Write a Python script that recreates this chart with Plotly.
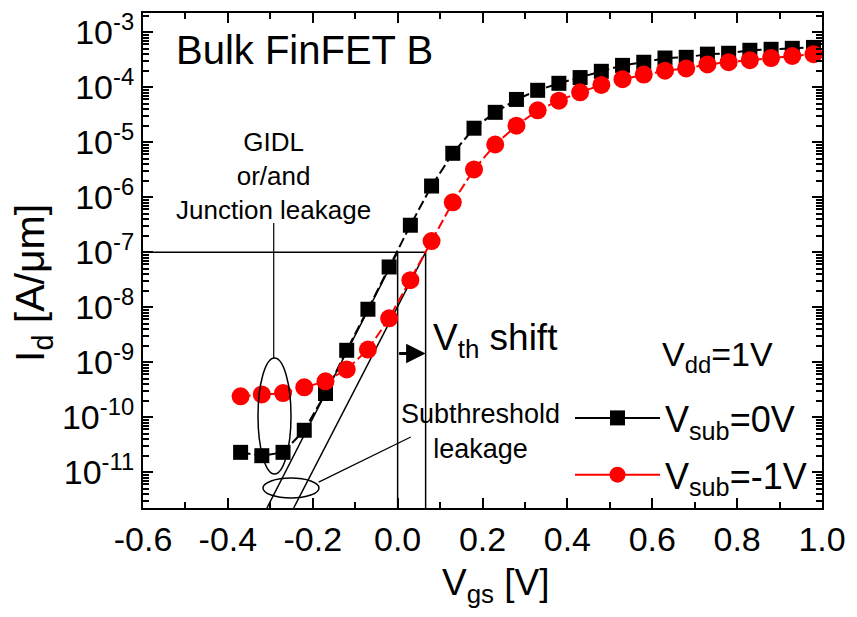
import plotly.graph_objects as go

# ---------------- data ----------------
VGS = [-0.37, -0.32, -0.27, -0.22, -0.17, -0.12, -0.07, -0.02, 0.03, 0.08,
       0.13, 0.18, 0.23, 0.28, 0.33, 0.38, 0.43, 0.48, 0.53, 0.58,
       0.63, 0.68, 0.73, 0.78, 0.83, 0.88, 0.93, 0.98]

ID_VSUB_0 = [2.3e-11, 2.0e-11, 2.3e-11, 5.8e-11, 2.7e-10, 1.65e-9, 9.2e-9, 5.4e-8, 3.1e-7, 1.6e-6,
             6.3e-6, 1.8e-5, 3.5e-5, 6.0e-5, 8.8e-5, 1.18e-4, 1.5e-4, 1.95e-4, 2.5e-4, 2.85e-4,
             3.4e-4, 3.5e-4, 4.0e-4, 4.15e-4, 4.7e-4, 4.9e-4, 5.1e-4, 5.3e-4]

ID_VSUB_M1 = [2.4e-10, 2.6e-10, 2.75e-10, 3.5e-10, 4.5e-10, 7.4e-10, 1.7e-9, 6.3e-9, 3.1e-8, 1.6e-7,
              8.1e-7, 3.2e-6, 9.1e-6, 2.0e-5, 3.8e-5, 5.7e-5, 8.1e-5, 1.1e-4, 1.4e-4, 1.7e-4,
              2.0e-4, 2.2e-4, 2.6e-4, 2.85e-4, 3.1e-4, 3.4e-4, 3.7e-4, 4.0e-4]

SERIES_NAMES = ["V<sub>sub</sub>=0V", "V<sub>sub</sub>=-1V"]

X_TICKS = [-0.6, -0.4, -0.2, 0.0, 0.2, 0.4, 0.6, 0.8, 1.0]
X_TICK_TEXT = ["-0.6", "-0.4", "-0.2", "0.0", "0.2", "0.4", "0.6", "0.8", "1.0"]
X_MINOR_TICKS = [-0.5, -0.3, -0.1, 0.1, 0.3, 0.5, 0.7, 0.9]
Y_TICKS = [1e-11, 1e-10, 1e-9, 1e-8, 1e-7, 1e-6, 1e-5, 1e-4, 1e-3]
Y_TICK_TEXT = ["10<sup>-11</sup>", "10<sup>-10</sup>", "10<sup>-9</sup>", "10<sup>-8</sup>",
               "10<sup>-7</sup>", "10<sup>-6</sup>", "10<sup>-5</sup>", "10<sup>-4</sup>",
               "10<sup>-3</sup>"]
Y_MINOR_TICKS = [m * 10.0 ** e for e in range(-12, -2) for m in range(2, 10)]

X_RANGE = [-0.6, 1.0]
Y_RANGE_LOG = [-11.65, -2.65]

# threshold construction
I_REF = 1e-7
VTH_0 = 0.0
VTH_M1 = 0.066
I_BOTTOM = 10 ** Y_RANGE_LOG[0]
TANGENT_0_X = [-0.308, VTH_0]
TANGENT_M1_X = [-0.245, VTH_M1]

FONT = "Liberation Sans, Arial, sans-serif"

# page body has an 8px default margin; compensate so the plot lands where intended
PAGE_OFFSET = 8
W, H = 857 - PAGE_OFFSET, 617 - PAGE_OFFSET
PLOT_L, PLOT_R, PLOT_T, PLOT_B = 143, 822, 13, 508  # screen pixels of the plot frame

fig = go.Figure()

# reference / construction lines
line_style = dict(color="black", width=1.5)
fig.add_trace(go.Scatter(x=[X_RANGE[0], VTH_M1], y=[I_REF, I_REF], mode="lines",
                         line=line_style, showlegend=False, hoverinfo="skip"))
fig.add_trace(go.Scatter(x=[VTH_0, VTH_0], y=[I_REF, I_BOTTOM], mode="lines",
                         line=line_style, showlegend=False, hoverinfo="skip"))
fig.add_trace(go.Scatter(x=[VTH_M1, VTH_M1], y=[I_REF, I_BOTTOM], mode="lines",
                         line=line_style, showlegend=False, hoverinfo="skip"))
fig.add_trace(go.Scatter(x=TANGENT_0_X, y=[I_BOTTOM, I_REF], mode="lines",
                         line=line_style, showlegend=False, hoverinfo="skip"))
fig.add_trace(go.Scatter(x=TANGENT_M1_X, y=[I_BOTTOM, I_REF], mode="lines",
                         line=line_style, showlegend=False, hoverinfo="skip"))
# pointer lines for labels
fig.add_trace(go.Scatter(x=[-0.292, -0.292], y=[10 ** -6.47, 10 ** -8.93], mode="lines",
                         line=dict(color="black", width=1.2), showlegend=False, hoverinfo="skip"))
fig.add_trace(go.Scatter(x=[-0.186, 0.031], y=[10 ** -11.18, 10 ** -10.36], mode="lines",
                         line=dict(color="black", width=1.2), showlegend=False, hoverinfo="skip"))

# data series
STYLES = [
    dict(line=dict(color="black", width=2), marker=dict(symbol="square", size=15, color="black")),
    dict(line=dict(color="#ff0000", width=2), marker=dict(symbol="circle", size=18, color="#ff0000")),
]
for ys, st in zip([ID_VSUB_0, ID_VSUB_M1], STYLES):
    fig.add_trace(go.Scatter(
        x=VGS, y=ys, mode="lines+markers", showlegend=False,
        line=dict(st["line"], dash="10px,4px"), marker=st["marker"],
    ))
# legend entries (solid line + marker, as in the reference legend)
for i, (name, st) in enumerate(zip(SERIES_NAMES, STYLES)):
    fig.add_trace(go.Scatter(x=[None], y=[None], name=name, mode="lines+markers",
                             legendgroup="g%d" % i,
                             line=st["line"], marker=st["marker"]))


def px2paper_x(px):
    return (px - PLOT_L) / float(PLOT_R - PLOT_L)


def px2paper_y(py):
    return (PLOT_B - py) / float(PLOT_B - PLOT_T)


# ellipses (paper coordinates)
fig.add_shape(type="circle", xref="paper", yref="paper",
              x0=px2paper_x(258), x1=px2paper_x(291), y0=px2paper_y(474), y1=px2paper_y(358),
              line=dict(color="black", width=1.5))
fig.add_shape(type="circle", xref="paper", yref="paper",
              x0=px2paper_x(263), x1=px2paper_x(319), y0=px2paper_y(498), y1=px2paper_y(478),
              line=dict(color="black", width=1.5))

annotations = [
    dict(x=-0.527, y=-3.33, text="Bulk FinFET B", xanchor="left", yanchor="middle",
         font=dict(size=40)),
    dict(x=-0.292, y=-5.62, text="GIDL<br>or/and<br>Junction leakage", xanchor="center",
         yanchor="middle", font=dict(size=26)),
    dict(x=0.195, y=-10.25, text="Subthreshold<br>leakage", xanchor="center",
         yanchor="middle", font=dict(size=27)),
    dict(x=0.078, y=-8.59, text="V<sub>th</sub> shift", xanchor="left",
         yanchor="middle", font=dict(size=37)),
    dict(x=0.618, y=-8.9, text="V<sub>dd</sub>=1V", xanchor="left",
         yanchor="middle", font=dict(size=34)),
    # arrow for Vth shift
    dict(x=VTH_M1, y=-8.84, ax=VTH_0, ay=-8.84, axref="x", ayref="y", text="",
         showarrow=True, arrowhead=2, arrowsize=1.3, arrowwidth=3, arrowcolor="black"),
    # axis titles
    dict(x=px2paper_x(33), y=px2paper_y(283), xref="paper", yref="paper",
         text="I<sub>d</sub> [A/\u03bcm]", textangle=-90, showarrow=False,
         xanchor="center", yanchor="middle", font=dict(size=41)),
    dict(x=px2paper_x(496), y=px2paper_y(585), xref="paper", yref="paper",
         text="V<sub>gs</sub> [V]", showarrow=False,
         xanchor="center", yanchor="middle", font=dict(size=37)),
]
for a in annotations:
    a.setdefault("xref", "x")
    a.setdefault("yref", "y")
    a.setdefault("showarrow", False)
    a.setdefault("font", {})
    a["font"].setdefault("family", FONT)
    a["font"].setdefault("color", "black")

fig.update_layout(
    template="none",
    width=W, height=H,
    margin=dict(l=PLOT_L - PAGE_OFFSET, r=W - (PLOT_R - PAGE_OFFSET),
                t=PLOT_T - PAGE_OFFSET, b=H - (PLOT_B - PAGE_OFFSET), autoexpand=False),
    paper_bgcolor="white", plot_bgcolor="white",
    font=dict(family=FONT, color="black", size=34),
    annotations=annotations,
    showlegend=True,
    legend=dict(x=px2paper_x(570), y=px2paper_y(388), xanchor="left", yanchor="top",
                bgcolor="rgba(0,0,0,0)", itemwidth=85, font=dict(size=36),
                traceorder="grouped", tracegroupgap=7),
    xaxis=dict(range=X_RANGE, tickmode="array", tickvals=X_TICKS, ticktext=X_TICK_TEXT,
               ticks="inside", ticklen=10, tickwidth=2, tickcolor="black",
               minor=dict(tickmode="array", tickvals=X_MINOR_TICKS, ticks="inside", ticklen=6,
                          tickcolor="black", tickwidth=2, showgrid=False),
               showline=True, linecolor="black", linewidth=2, mirror="allticks",
               showgrid=False, zeroline=False, automargin=False,
               ticklabeloverflow="allow", tickfont=dict(size=34)),
    yaxis=dict(type="log", range=Y_RANGE_LOG, tickmode="array", tickvals=Y_TICKS,
               ticktext=Y_TICK_TEXT,
               ticks="inside", ticklen=10, tickwidth=2, tickcolor="black",
               minor=dict(tickmode="array", tickvals=Y_MINOR_TICKS, ticks="inside", ticklen=6,
                          tickcolor="black", tickwidth=1.5, showgrid=False),
               showline=True, linecolor="black", linewidth=2, mirror="allticks",
               showgrid=False, zeroline=False, automargin=False,
               ticklabeloverflow="allow", tickfont=dict(size=34)),
)

fig.write_html("out.html")
